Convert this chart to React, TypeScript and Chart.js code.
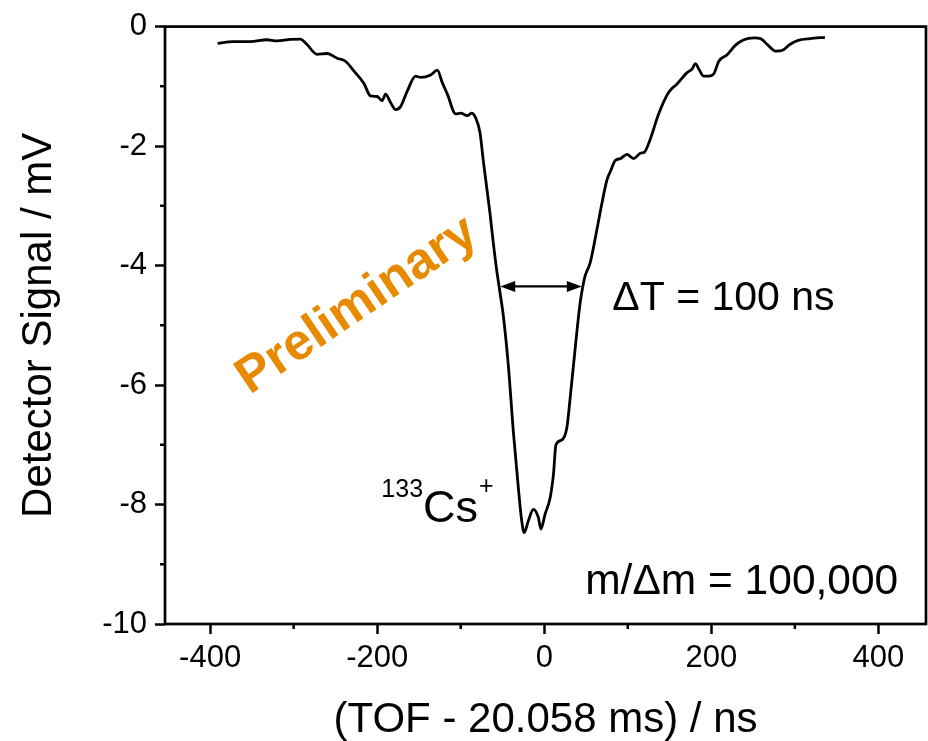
import React, { useEffect, useRef } from "react";
import { Chart, registerables } from "chart.js";

Chart.register(...registerables);

const FONT = '"Liberation Sans", Arial, Helvetica, sans-serif';

// TOF offset (ns) and detector signal (mV)
const tofNs = [
  -391, -372, -352, -332, -320, -304, -292, -284, -272, -260, -248, -238, -228, -216, -208, -200,
  -194, -190, -184, -178, -172, -164, -154, -148, -136, -128, -122, -116, -106, -100, -92, -87,
  -82, -77, -73, -69, -65, -61, -57, -53, -49, -43, -37, -31, -27, -24, -19, -13, -7, -4, 1, 7,
  11, 14, 21, 27, 31, 37, 43, 47, 49, 55, 63, 69, 75, 79, 85, 91, 99, 107, 115, 120, 127, 137,
  149, 159, 171, 177, 181, 185, 191, 197, 203, 209, 219, 229, 239, 251, 259, 267, 277, 286, 294,
  304, 318, 336,
];
const signalMv = [
  -0.28, -0.25, -0.25, -0.22, -0.24, -0.215, -0.21, -0.3, -0.465, -0.45, -0.53, -0.58, -0.74,
  -0.95, -1.16, -1.17, -1.24, -1.13, -1.27, -1.39, -1.34, -1.08, -0.83, -0.85, -0.81, -0.73,
  -0.94, -1.13, -1.46, -1.45, -1.49, -1.45, -1.53, -1.77, -2.24, -2.68, -3.12, -3.62, -4.07,
  -4.45, -4.84, -5.67, -6.78, -7.72, -8.27, -8.47, -8.27, -8.08, -8.22, -8.41, -8.16, -7.89,
  -7.5, -7.0, -6.92, -6.72, -6.22, -5.39, -4.62, -4.29, -4.17, -3.95, -3.4, -2.96, -2.57, -2.43,
  -2.24, -2.21, -2.14, -2.21, -2.12, -2.1, -1.88, -1.46, -1.1, -0.96, -0.77, -0.71, -0.62, -0.71,
  -0.83, -0.83, -0.79, -0.58, -0.47, -0.31, -0.22, -0.19, -0.2, -0.3, -0.41, -0.39, -0.3, -0.23,
  -0.2, -0.18,
];

const xMajorTicks = [-400, -200, 0, 200, 400];
const xMinorTicks = [-300, -100, 100, 300];
const yMajorTicks = [-10, -8, -6, -4, -2, 0];
const yMinorTicks = [-9, -7, -5, -3, -1];

// FWHM arrow (ns, mV)
const fwhmArrowX = [-52.7, 45];
const fwhmArrowY = -4.35;

const annotationPlugin = {
  id: "annotations",
  afterDraw(chart: any) {
    const { ctx, chartArea: a, scales } = chart;
    const xs = scales.x;
    const ys = scales.y;
    ctx.save();
    ctx.strokeStyle = "#000";
    ctx.fillStyle = "#000";
    ctx.lineWidth = 2.7;
    ctx.lineCap = "butt";
    // frame
    ctx.strokeRect(a.left, a.top, a.right - a.left, a.bottom - a.top);
    // minor ticks
    ctx.lineWidth = 2.5;
    ctx.beginPath();
    yMinorTicks.forEach((v) => {
      const py = ys.getPixelForValue(v);
      ctx.moveTo(a.left - 5, py);
      ctx.lineTo(a.left, py);
    });
    xMinorTicks.forEach((v) => {
      const px = xs.getPixelForValue(v);
      ctx.moveTo(px, a.bottom);
      ctx.lineTo(px, a.bottom + 5);
    });
    ctx.stroke();

    // arrow
    const x1 = xs.getPixelForValue(fwhmArrowX[0]);
    const x2 = xs.getPixelForValue(fwhmArrowX[1]);
    const ay = ys.getPixelForValue(fwhmArrowY);
    ctx.lineWidth = 2.2;
    ctx.beginPath();
    ctx.moveTo(x1 + 8, ay);
    ctx.lineTo(x2 - 8, ay);
    ctx.stroke();
    ctx.beginPath();
    ctx.moveTo(x1, ay);
    ctx.lineTo(x1 + 15, ay - 5.5);
    ctx.lineTo(x1 + 15, ay + 5.5);
    ctx.closePath();
    ctx.moveTo(x2, ay);
    ctx.lineTo(x2 - 15, ay - 5.5);
    ctx.lineTo(x2 - 15, ay + 5.5);
    ctx.closePath();
    ctx.fill();

    // texts
    ctx.textBaseline = "alphabetic";
    ctx.textAlign = "left";
    ctx.font = `41px ${FONT}`;
    ctx.fillText("\u0394T = 100 ns", xs.getPixelForValue(81.5), ys.getPixelForValue(-4.75));

    ctx.font = `42.5px ${FONT}`;
    ctx.fillText("m/\u0394m = 100,000", xs.getPixelForValue(49), ys.getPixelForValue(-9.5));

    // 133Cs+
    const cx = xs.getPixelForValue(-195);
    const cy = ys.getPixelForValue(-8.3);
    ctx.font = `25px ${FONT}`;
    ctx.fillText("133", cx, cy - 25);
    const w1 = ctx.measureText("133").width;
    ctx.font = `45px ${FONT}`;
    ctx.fillText("Cs", cx + w1, cy);
    const w2 = ctx.measureText("Cs").width;
    ctx.font = `25px ${FONT}`;
    ctx.fillText("+", cx + w1 + w2 + 1, cy - 28);

    // Preliminary
    ctx.save();
    ctx.translate(xs.getPixelForValue(-224), ys.getPixelForValue(-4.67));
    ctx.rotate((-34 * Math.PI) / 180);
    ctx.fillStyle = "#E88A00";
    ctx.font = `bold 51px ${FONT}`;
    ctx.textAlign = "center";
    ctx.textBaseline = "middle";
    ctx.fillText("Preliminary", 0, 0);
    ctx.restore();

    ctx.restore();
  },
};

export default function App() {
  const ref = useRef<HTMLCanvasElement>(null);
  useEffect(() => {
    document.body.style.margin = "0";
    const points = tofNs.map((t, i) => ({ x: t, y: signalMv[i] }));
    const chart = new Chart(ref.current as HTMLCanvasElement, {
      type: "line",
      data: {
        datasets: [
          {
            data: points,
            borderColor: "#000",
            borderWidth: 2.8,
            pointRadius: 0,
            cubicInterpolationMode: "monotone",
            fill: false,
          },
        ],
      },
      options: {
        animation: false,
        responsive: false,
        devicePixelRatio: 1,
        layout: { padding: { top: 22, right: 2, left: 0, bottom: 0 } },
        plugins: { legend: { display: false }, tooltip: { enabled: false } },
        scales: {
          x: {
            type: "linear",
            min: -454,
            max: 457,
            afterBuildTicks: (s: any) => {
              s.ticks = xMajorTicks.map((v) => ({ value: v }));
            },
            afterFit: (s: any) => {
              s.height = 117;
            },
            grid: {
              drawOnChartArea: false,
              drawTicks: true,
              tickLength: 10,
              tickWidth: 2.5,
              tickColor: "#000",
            },
            border: { display: false },
            ticks: {
              color: "#000",
              font: { family: FONT, size: 31 },
              padding: 6,
              maxRotation: 0,
              callback: (v: any) => String(v),
            },
            title: {
              display: true,
              text: "(TOF - 20.058 ms) / ns",
              color: "#000",
              font: { family: FONT, size: 42, lineHeight: 1.0 },
              padding: { top: 0, bottom: 0 },
            },
          },
          y: {
            type: "linear",
            min: -10,
            max: 0,
            afterBuildTicks: (s: any) => {
              s.ticks = yMajorTicks.map((v) => ({ value: v }));
            },
            afterFit: (s: any) => {
              s.width = 165;
            },
            grid: {
              drawOnChartArea: false,
              drawTicks: true,
              tickLength: 10,
              tickWidth: 2.5,
              tickColor: "#000",
            },
            border: { display: false },
            ticks: {
              color: "#000",
              font: { family: FONT, size: 31 },
              padding: 8,
              callback: (v: any) => String(v),
            },
            title: {
              display: true,
              text: "Detector Signal / mV",
              color: "#000",
              font: { family: FONT, size: 42, lineHeight: 1.0 },
              padding: { top: 18, bottom: 0 },
            },
          },
        },
      },
      plugins: [annotationPlugin],
    } as any);
    return () => chart.destroy();
  }, []);
  return <canvas ref={ref} width={928} height={741} style={{ display: "block" }} />;
}
